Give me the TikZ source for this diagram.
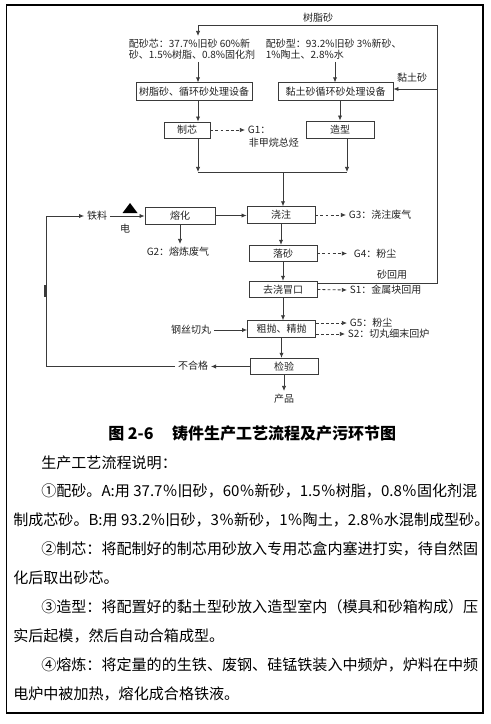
\documentclass[tikz,border=0pt]{standalone}
\usepackage{fontspec}
\setmainfont{Noto Sans CJK SC}
\usepackage{xcolor}
\usepackage{tikz}
\usetikzlibrary{arrows.meta,calc}
\definecolor{CastLine}{HTML}{3A3A3A}
\definecolor{CastText}{HTML}{222222}
\definecolor{CastFrame}{HTML}{000000}

\begin{document}
\begin{tikzpicture}[x=0.75pt,y=-0.75pt,
    procbox/.style={draw=CastLine, line width=0.6pt, text=CastText, inner sep=0pt,
      font=\fontsize{7.5pt}{8pt}\selectfont},
    mainbox/.style={procbox, minimum width=51pt, minimum height=12.4pt},
    lbl/.style={text=CastText, inner sep=2pt, font=\fontsize{7.5pt}{8pt}\selectfont},
    wire/.style={draw=CastLine, line width=0.6pt},
    flow/.style={wire, -{Latex[length=3.8pt,width=3.2pt]}},
    dashflow/.style={flow, dash pattern=on 2.2pt off 1.6pt},
    bodytxt/.style={anchor=west, inner sep=0pt, font=\fontsize{11.3pt}{13pt}\selectfont}]
  \useasboundingbox (0,0) rectangle (491,724);
  \draw[CastFrame, line width=1.3pt] (6.5,5) rectangle (483,713);

  % sand mixing
  \node[lbl] (resinTag) at (318,18) {树脂砂};
  \node[lbl, anchor=north west, align=left] (coreMix) at (126,36) {配砂芯：37.7\%旧砂 60\%新\\砂、1.5\%树脂、0.8\%固化剂};
  \node[lbl, anchor=north west, align=left] (moldMix) at (263,36) {配砂型：93.2\%旧砂 3\%新砂、\\1\%陶土、2.8\%水};
  \node[lbl] (clayTag) at (412,78) {黏土砂};
  \node[procbox, minimum width=87pt, minimum height=13pt] (resin) at (194,91.5) {树脂砂、循环砂处理设备};
  \node[procbox, minimum width=86.25pt, minimum height=13pt] (clay) at (335.5,91.5) {黏土砂循环砂处理设备};
  \node[procbox, minimum width=34.5pt, minimum height=12pt] (core) at (187,130) {制芯};
  \node[procbox, minimum width=51pt, minimum height=12.75pt] (mold) at (340,129.5) {造型};
  \node[lbl, anchor=west] (g1) at (245,130) {G1：};
  \node[lbl, anchor=west] (g1note) at (246,143) {非甲烷总烃};

  \coordinate (colA) at (198,0);
  \coordinate (colB) at (335,0);
  \coordinate (retLeft) at (198,25);
  \coordinate (retTop) at (437,25);
  \coordinate (retLow) at (437,283);
  \coordinate (clayIn) at (437,89);
  \coordinate (mergeL) at (198,172);
  \coordinate (mergeR) at (347,172);
  \coordinate (mergeM) at (283,172);

  \draw[flow] (clayIn) -- (clayIn -| clay.east);
  \draw[flow] (coreMix.south -| colA) -- (resin.north -| colA);
  \draw[flow] (moldMix.south -| colB) -- (clay.north -| colB);
  \draw[flow] (resin.south -| colA) -- (core.north -| colA);
  \draw[flow] (clay.south -| mold) -- (mold.north);
  \draw[dashflow] (core.east) -- (g1.west);
  \draw[flow] (core.south -| mergeL) -- (mergeL);
  \draw[flow] (mold.south -| mergeR) -- (mergeR);
  \draw[wire] (mergeL) -- (mergeR);

  % melting and casting line
  \node[lbl] (iron) at (97,216) {铁料};
  \node[lbl] (power) at (125,229) {电};
  \fill[black] (130,203) -- (137.5,213) -- (122.5,213) -- cycle;
  \node[procbox, minimum width=52.5pt, minimum height=12.75pt] (melt) at (180,215.5) {熔化};
  \node[mainbox] (pour) at (281,215) {浇注};
  \node[mainbox] (shakeout) at (283,253.5) {落砂};
  \node[mainbox] (gate) at (283,289.5) {去浇冒口};
  \node[mainbox] (polish) at (281.5,329) {粗抛、精抛};
  \node[mainbox] (inspect) at (284,366.5) {检验};
  \node[lbl, anchor=north] (g2) at (178,244) {G2：熔炼废气};
  \node[lbl, anchor=west] (g3) at (346,215) {G3：浇注废气};
  \node[lbl, anchor=west, inner xsep=5pt] (g4) at (347,253.5) {G4：粉尘};
  \node[lbl] (sandBack) at (392,275) {砂回用};
  \node[lbl, anchor=west] (s1) at (347,290) {S1：金属块回用};
  \node[lbl, anchor=west] (g5) at (347,323) {G5：粉尘};
  \node[lbl, anchor=west] (s2) at (345,334) {S2：切丸细末回炉};
  \node[lbl, anchor=east] (shot) at (214,330) {钢丝切丸};
  \node[lbl] (reject) at (193,366) {不合格};
  \node[lbl, anchor=north] (product) at (284,391) {产品};
  \coordinate (loopLeft) at (46,366);

  \draw[flow] (retLow -| gate.east) -- (retLow) -- (retTop) -- (retLeft) -- (retLeft |- coreMix.north);
  \draw[flow] (iron.east) -- (melt.west |- iron.east);
  \draw[flow] (melt.east) -- (melt.east -| pour.west);
  \draw[flow] (melt.south) -- (melt.south |- g2.north);
  \draw[flow] (mergeM) -- (mergeM |- pour.north);
  \draw[flow] (pour.south) -- (pour.south |- shakeout.north);
  \draw[flow] (shakeout.south) -- (shakeout.south |- gate.north);
  \draw[flow] (gate.south) -- (gate.south |- polish.north);
  \draw[flow] (polish.south) -- (polish.south |- inspect.north);
  \draw[flow] (inspect.south) -- (inspect.south |- product.north);
  \draw[dashflow] (pour.east) -- (g3.west);
  \draw[dashflow] (shakeout.east) -- (g4.west);
  \draw[dashflow] (gate.east) -- (s1.west);
  \draw[dashflow] (g5.west -| polish.east) -- (g5.west);
  \draw[dashflow] (s2.west -| polish.east) -- (s2.west);
  \draw[flow] (shot.east) -- (shot.east -| polish.west);
  \draw[flow] (inspect.west) -- (reject.east |- inspect.west);
  \draw[flow] (reject.west) -- (reject.west -| loopLeft) |- (iron.west);
  \draw[CastLine, line width=1.4pt] (45.3,285) -- (45.3,297);

  % caption and notes
  \node[anchor=west, inner sep=0pt, font=\bfseries\fontsize{12pt}{14pt}\selectfont] (caption) at (108,433) {图 2-6\hspace{14pt}铸件生产工艺流程及产污环节图};
  \node[bodytxt] (intro) at (41,463) {生产工艺流程说明：};
  \node[bodytxt] (step1a) at (41,491) {①配砂。A:用 37.7％旧砂，60％新砂，1.5％树脂，0.8％固化剂混};
  \node[bodytxt] (step1b) at (13,520) {制成芯砂。B:用 93.2％旧砂，3％新砂，1％陶土，2.8％水混制成型砂。};
  \node[bodytxt] (step2a) at (41,549) {②制芯：将配制好的制芯用砂放入专用芯盒内塞进打实，待自然固};
  \node[bodytxt] (step2b) at (13,578) {化后取出砂芯。};
  \node[bodytxt] (step3a) at (41,607) {③造型：将配置好的黏土型砂放入造型室内（模具和砂箱构成）压};
  \node[bodytxt] (step3b) at (13,636) {实后起模，然后自动合箱成型。};
  \node[bodytxt] (step4a) at (41,665) {④熔炼：将定量的的生铁、废钢、硅锰铁装入中频炉，炉料在中频};
  \node[bodytxt] (step4b) at (13,694) {电炉中被加热，熔化成合格铁液。};
\end{tikzpicture}
\end{document}
